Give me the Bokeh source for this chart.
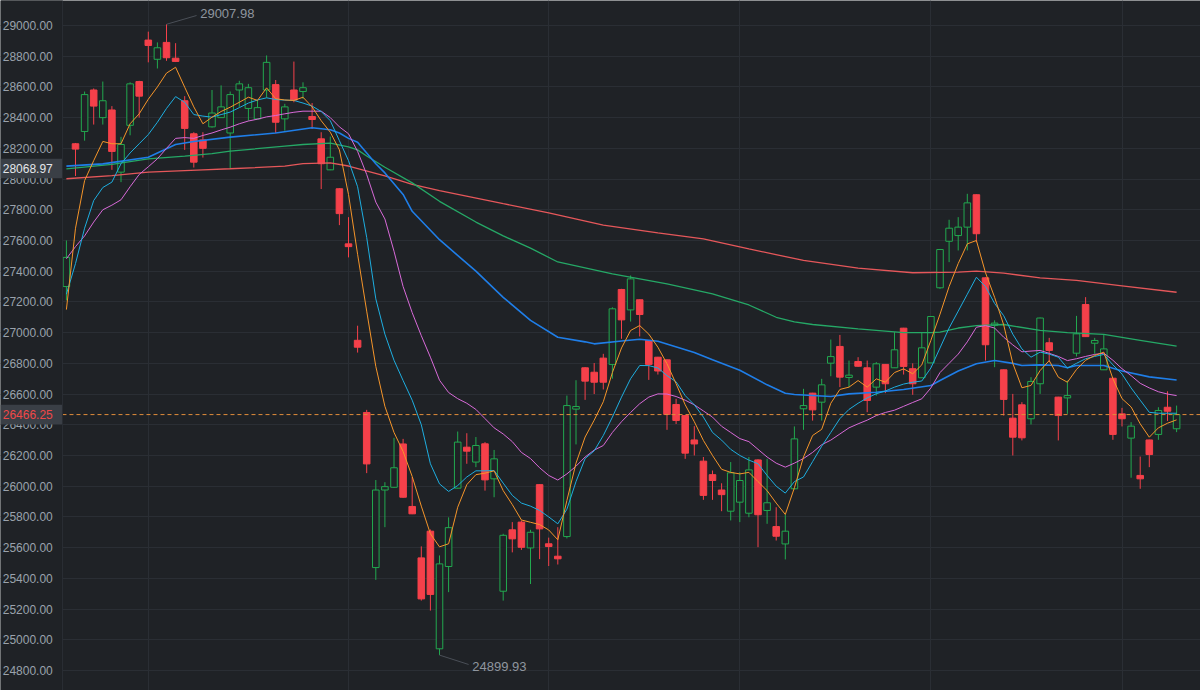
from bokeh.plotting import figure
from bokeh.models import ColumnDataSource, FixedTicker, Span, Label, Range1d
from bokeh.core.properties import value
from bokeh.embed import file_html
from bokeh.resources import INLINE

# ---------------- data ----------------
opens = [27300, 28230, 28310, 28580, 28400, 28450, 28045, 28350, 28635, 28905,
         28780, 28890, 28787, 28510, 28295, 28255, 28340, 28400, 28300, 28580,
         28460, 28392, 28580, 28615, 28392, 28580, 28570, 28407, 28262, 28060,
         27937, 27578, 26950, 26480, 25470, 25975, 25993, 26275, 25868, 25533,
         25707, 24941, 25477, 25987, 26254, 26157, 26276, 26048, 25316, 25716,
         25766, 25598, 26010, 25625, 25544, 25672, 26502, 26771, 26742, 26834,
         26793, 27281, 27148, 27214, 26949, 26840, 26823, 26532, 26460, 26301,
         26163, 26075, 25975, 25837, 25896, 25824, 26171, 25842, 25737, 25624,
         25983, 26504, 26606, 26547, 26801, 26910, 26708, 26812, 26771, 26645,
         26793, 26771, 27029, 26765, 26706, 26803, 27292, 27595, 27632, 27687,
         27898, 27357, 27047, 26758, 26443, 26530, 26439, 26667, 26934, 26580,
         26575, 26866, 27183, 26931, 26758, 26703, 26471, 26313, 26070, 26301,
         26337, 26514, 26374]
highs = [27600, 28235, 28570, 28590, 28635, 28475, 28275, 28630, 28640, 28960,
         28890, 29007.98, 28885, 28540, 28305, 28305, 28580, 28610, 28570, 28640,
         28620, 28512, 28805, 28645, 28490, 28765, 28630, 28495, 28305, 28277,
         27940, 27752, 27045, 26497, 26040, 26026, 26315, 26308, 26060, 25608,
         25718, 25549, 25797, 26356, 26345, 26320, 26287, 26236, 25690, 25766,
         25777, 25716, 26012, 25665, 25733, 26590, 26690, 26775, 26802, 26862,
         27165, 27285, 27372, 27216, 26952, 26842, 26825, 26569, 26462, 26391,
         26190, 26102, 26019, 26157, 26091, 26190, 26175, 26178, 25863, 25816,
         26389, 26634, 26608, 26699, 26955, 26985, 26818, 26840, 26818, 26808,
         26795, 27003, 27031, 26800, 27003, 27108, 27545, 27735, 27752, 27904,
         27900, 27360, 27080, 26760, 26601, 26547, 26710, 27098, 26966, 26582,
         26688, 27109, 27231, 26966, 26988, 26705, 26510, 26417, 26193, 26303,
         26514, 26618, 26525]
lows = [27210, 28020, 28250, 28355, 28355, 28060, 27980, 28285, 28400, 28760,
        28720, 28770, 28762, 28190, 28075, 28140, 28335, 28398, 28065, 28470,
        28380, 28390, 28530, 28300, 28315, 28500, 28522, 28327, 27935, 28058,
        27700, 27490, 26870, 26085, 25390, 25733, 25990, 25925, 25818, 25255,
        25190, 24899.93, 25310, 25985, 26146, 26124, 25971, 25928, 25255, 25569,
        25585, 25363, 25525, 25480, 25490, 25660, 26272, 26562, 26600, 26630,
        26700, 26960, 27072, 26975, 26692, 26727, 26367, 26405, 26178, 26200,
        25911, 25911, 25837, 25777, 25766, 25798, 25603, 25755, 25646, 25523,
        25980, 26367, 26427, 26427, 26716, 26645, 26645, 26778, 26482, 26590,
        26606, 26770, 26727, 26595, 26705, 26800, 27285, 27459, 27535, 27535,
        27589, 26818, 26775, 26460, 26200, 26298, 26402, 26601, 26807, 26298,
        26471, 26845, 26972, 26862, 26756, 26302, 26389, 26055, 25983, 26124,
        26302, 26425, 26352]
closes = [27490, 28195, 28550, 28475, 28510, 28180, 28225, 28620, 28540, 28870,
          28855, 28790, 28766, 28330, 28110, 28200, 28430, 28470, 28550, 28620,
          28595, 28465, 28760, 28370, 28470, 28515, 28595, 28388, 28100, 28142,
          27775, 27560, 26905, 26145, 25975, 25997, 26120, 25928, 25820, 25266,
          25295, 25494, 25730, 26287, 26228, 26265, 26041, 26178, 25680, 25657,
          25602, 25700, 25722, 25607, 25527, 26525, 26519, 26684, 26677, 26677,
          27155, 27083, 27350, 27118, 26793, 26750, 26467, 26428, 26215, 26275,
          25940, 26037, 25945, 26087, 26037, 26106, 25814, 25892, 25674, 25707,
          26308, 26525, 26497, 26660, 26844, 26710, 26723, 26781, 26558, 26797,
          26667, 26888, 26780, 26667, 26901, 27105, 27541, 27680, 27687, 27845,
          27644, 26921, 27062, 26565, 26319, 26315, 26682, 27095, 26884, 26460,
          26590, 26992, 26974, 26949, 26894, 26337, 26439, 26391, 26048, 26206,
          26493, 26488, 26466.25]

ma5 = [27150, 27680, 27990, 28120, 28245, 28230, 28230, 28360, 28425, 28520,
       28600, 28690, 28728, 28598, 28470, 28360, 28403, 28440, 28468, 28500,
       28533, 28512, 28594, 28523, 28515, 28512, 28533, 28470, 28380, 28305,
       28190, 27900, 27510, 27140, 26780, 26520, 26350, 26226, 26063, 25870,
       25690, 25605, 25625, 25863, 26010, 26075, 26085, 26100, 25971, 25880,
       25780, 25765, 25750, 25715, 25651, 25907, 26150, 26320, 26430, 26550,
       26740, 26900, 27014, 27046, 26990, 26905, 26797, 26667, 26530, 26420,
       26298, 26200, 26110, 26090, 26080, 26090, 26030, 25971, 25890, 25816,
       25990, 26190, 26330, 26370, 26540, 26630, 26645, 26688, 26645, 26699,
       26677, 26740, 26764, 26732, 26790, 26950, 27120, 27300, 27450, 27578,
       27600, 27390, 27230, 27050, 26800, 26641, 26656, 26753, 26818, 26710,
       26677, 26760, 26820, 26851, 26873, 26700, 26570, 26516, 26406, 26319,
       26380, 26410, 26432]
ma10 = [27250, 27450, 27680, 27860, 27945, 27980, 28100, 28170, 28230, 28290,
        28370, 28460, 28537, 28500, 28420, 28410, 28403, 28420, 28436, 28465,
        28495, 28515, 28529, 28518, 28514, 28512, 28495, 28475, 28440, 28380,
        28250, 28120, 27950, 27620, 27220, 26990, 26820, 26688, 26560, 26400,
        26146, 26015, 25966, 26004, 26060, 26100, 26100, 26102, 26020, 25940,
        25890, 25870, 25842, 25800, 25755, 25850, 26030, 26180, 26230, 26330,
        26450, 26580, 26700, 26786, 26785, 26770, 26720, 26680, 26590, 26530,
        26450, 26350, 26300, 26240, 26200, 26170, 26146, 26070, 26000, 25955,
        26030, 26060, 26160, 26260, 26350, 26440, 26500, 26540, 26575, 26602,
        26620, 26645, 26665, 26677, 26685, 26770, 26900, 27030, 27140, 27250,
        27361, 27300, 27190, 27110, 26990, 26894, 26840, 26873, 26860, 26840,
        26769, 26800, 26830, 26845, 26858, 26790, 26730, 26640, 26560, 26481,
        26475, 26475, 26475]
ma20 = [27481, 27560, 27630, 27720, 27800, 27830, 27865, 27950, 28030, 28080,
        28132, 28200, 28265, 28270, 28265, 28284, 28300, 28320, 28338, 28360,
        28378, 28390, 28405, 28414, 28425, 28435, 28442, 28442, 28442, 28400,
        28340, 28295, 28180, 28030, 27850, 27740, 27530, 27300, 27130, 26980,
        26840, 26690, 26610, 26570, 26540, 26500, 26440, 26380, 26340, 26290,
        26220, 26180, 26120, 26070, 26040, 26080, 26130, 26190, 26235, 26265,
        26350, 26420, 26480, 26537, 26580, 26601, 26600, 26584, 26560, 26530,
        26490, 26450, 26390, 26350, 26310, 26290, 26240, 26190, 26150, 26124,
        26150, 26180, 26220, 26270, 26300, 26340, 26380, 26406, 26430, 26460,
        26480, 26495, 26520, 26545, 26569, 26640, 26740, 26800, 26860, 26940,
        27035, 27046, 27030, 26970, 26920, 26875, 26880, 26884, 26865, 26845,
        26818, 26830, 26845, 26858, 26866, 26820, 26765, 26720, 26670, 26640,
        26615, 26600, 26590]
ma30_idx = [0, 4, 9, 12, 14, 18, 23, 27, 29, 30, 31, 32, 33, 34, 35, 37, 38, 41, 45, 48,
            51, 54, 57, 58, 61, 63, 65, 69, 71, 74, 77, 79, 80, 84, 86, 89, 92, 95, 96, 98,
            100, 102, 104, 105, 107, 109, 110, 111, 114, 116, 119, 122]
ma30 = [28084, 28099, 28142, 28225, 28245, 28273, 28300, 28334, 28321, 28300,
        28265, 28240, 28170, 28100, 28040, 27900, 27790, 27605, 27400, 27230,
        27080, 26970, 26940, 26927, 26945, 26957, 26944, 26870, 26823, 26755,
        26660, 26605, 26597, 26584, 26601, 26612, 26630, 26656, 26688, 26750,
        26797, 26818, 26800, 26786, 26790, 26786, 26771, 26786, 26786, 26750,
        26712, 26692]
ma60_idx = [0, 5, 9, 13, 16, 18, 24, 26, 29, 31, 32, 33, 35, 38, 41, 45, 48, 51, 54, 60,
            66, 71, 75, 78, 80, 82, 87, 92, 95, 96, 98, 100, 103, 107, 110, 114, 118, 122]
ma60 = [28067, 28095, 28132, 28150, 28165, 28182, 28214, 28225, 28234, 28210,
        28190, 28150, 28077, 27975, 27855, 27720, 27630, 27550, 27460, 27383,
        27318, 27253, 27180, 27100, 27070, 27053, 27025, 27000, 27000, 27003,
        27030, 27046, 27053, 27014, 27000, 26988, 26950, 26912]
ma120_idx = [0, 5, 9, 15, 18, 24, 26, 29, 31, 35, 38, 41, 48, 53, 59, 65, 70, 75, 81, 87,
             93, 98, 100, 103, 107, 111, 116, 122]
ma120 = [28002, 28023, 28045, 28060, 28067, 28084, 28100, 28105, 28085, 28020,
         27965, 27925, 27840, 27780, 27700, 27650, 27610, 27545, 27470, 27420,
         27390, 27394, 27400, 27387, 27357, 27340, 27305, 27263]

y_ticks = list(range(24800, 29001, 200))
month_starts = [9, 31, 53, 74, 95, 116]
last_price = 26466.25
marker_price = 28068.97
max_idx, max_price = 11, 29007.98
min_idx, min_price = 41, 24899.93

# ---------------- styling ----------------
BG = "#1f2226"
GRID = "#2a2e34"
UP = "#22a94f"
DOWN = "#f5404a"
LABEL = "#9aa2ac"
FONT = "Liberation Sans"
X0, X1 = -7.242, 124.626      # whole canvas: price-scale gutter on the left
FRAME_L = -0.43                # left edge of the price area
LAB_X = -1.5                   # right edge of the price labels

p = figure(width=1200, height=690, output_backend="svg", toolbar_location=None,
           x_axis_location=None, y_axis_location=None,
           x_range=Range1d(X0, X1), y_range=Range1d(24669.5, 29162.8),
           background_fill_color=BG, border_fill_color=BG,
           min_border_left=0, min_border_right=0, min_border_top=0, min_border_bottom=0)
p.outline_line_color = None

p.ygrid.ticker = FixedTicker(ticks=y_ticks)
p.ygrid.grid_line_color = GRID
p.xgrid.ticker = FixedTicker(ticks=month_starts)
p.xgrid.grid_line_color = GRID

# price-scale gutter
p.quad(left=X0, right=FRAME_L, bottom=24600, top=29200, fill_color=BG, line_color=None)
p.add_layout(Span(location=FRAME_L, dimension="height", line_color=GRID, line_width=1))
p.text(x=[LAB_X] * len(y_ticks), y=y_ticks, text=[f"{t:.2f}" for t in y_ticks],
       text_color=LABEL, text_font=value(FONT), text_font_size="12px",
       text_align="right", text_baseline="middle")

n = len(closes)
xs = list(range(n))
up = [i for i in xs if closes[i] >= opens[i]]
dn = [i for i in xs if closes[i] < opens[i]]

def src(ids):
    return ColumnDataSource(dict(
        x=ids,
        hi=[highs[i] for i in ids], lo=[lows[i] for i in ids],
        top=[max(opens[i], closes[i]) for i in ids],
        bot=[min(opens[i], closes[i]) for i in ids]))

su, sd = src(up), src(dn)
p.segment(x0="x", y0="hi", x1="x", y1="lo", source=su, line_color=UP, line_width=1)
p.segment(x0="x", y0="hi", x1="x", y1="lo", source=sd, line_color=DOWN, line_width=1)
p.vbar(x="x", width=0.72, top="top", bottom="bot", source=su,
       fill_color=BG, line_color=UP, line_width=1)
p.vbar(x="x", width=0.72, top="top", bottom="bot", source=sd,
       fill_color=DOWN, line_color=DOWN, line_width=1)

p.line(ma120_idx, ma120, line_color="#e5575a", line_width=1.3)
p.line(ma60_idx, ma60, line_color="#25a866", line_width=1.3)
p.line(ma30_idx, ma30, line_color="#1f7ee8", line_width=1.6)
p.line(xs, ma20, line_color="#d86ad8", line_width=1)
p.line(xs, ma10, line_color="#1eaee0", line_width=1)
p.line(xs, ma5, line_color="#f5952a", line_width=1)

# last price dashed line (price area only)
p.segment(x0=[FRAME_L], y0=[last_price], x1=[X1], y1=[last_price],
          line_color="#e08c3a", line_dash="4 3", line_width=1)

# extreme markers
p.segment(x0=[max_idx, min_idx], y0=[max_price, min_price],
          x1=[14.3, 44.2], y1=[29065, 24839], line_color="#4a4f57", line_width=1)
p.add_layout(Label(x=14.7, y=29078, text=f"{max_price:.2f}", text_color="#8f969f",
                   text_font=FONT, text_font_size="13px", text_baseline="middle"))
p.add_layout(Label(x=44.6, y=24826, text=f"{min_price:.2f}", text_color="#8f969f",
                   text_font=FONT, text_font_size="13px", text_baseline="middle"))

# price tags on the scale
tag_prices = [marker_price, last_price]
tag_colors = ["#e3e6ea", "#f04848"]
p.rect(x=[(X0 + FRAME_L) / 2] * 2, y=tag_prices, width=FRAME_L - X0, height=[128, 128],
       fill_color="#3a3f46", line_color=None)
p.text(x=[LAB_X] * 2, y=tag_prices, text=[f"{v:.2f}" for v in tag_prices],
       text_color=tag_colors, text_font=value(FONT), text_font_size="12px",
       text_align="right", text_baseline="middle")

open("out.html", "w").write(file_html(p, INLINE))
